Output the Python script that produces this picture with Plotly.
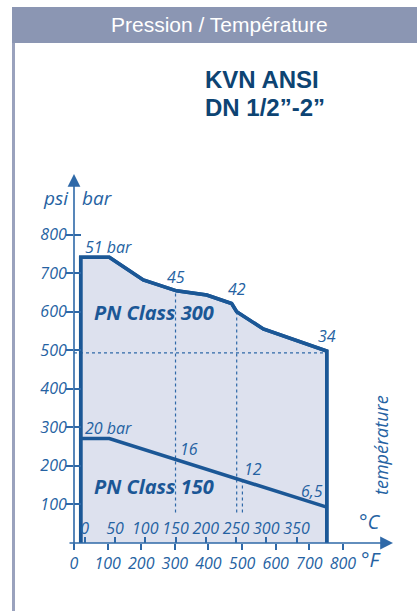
import plotly.graph_objects as go

# ---------------- data ----------------
# PN Class 300 envelope (temperature in °F, pressure in psi)
class300_temp_F = [20, 20, 105, 206, 305, 395, 469, 484, 563, 752, 752]
class300_psi = [0, 741, 741, 682, 654, 643, 621, 600, 555, 498, 0]

# PN Class 150 line
class150_temp_F = [20, 105, 752]
class150_psi = [271, 271, 93]

# bar value labels (text, anchor °F, anchor psi)
class300_labels = ["51 bar", "45", "42", "34"]
class300_label_F = [104, 303, 485, 754]
class300_label_psi = [768, 690, 658, 536]
class150_labels = ["20 bar", "16", "12", "6,5"]
class150_label_F = [104, 342, 533, 708]
class150_label_psi = [298, 245, 193, 136]

# reference (dotted) lines
ref_v_temp_F = [302, 484, 501]
ref_v_psi_top = [654, 600, 162]
ref_v_psi_bottom = 79
ref_h_psi = 493
ref_h_temp_F_end = 752

# axes ticks
psi_ticks = [100, 200, 300, 400, 500, 600, 700, 800]
F_ticks = [0, 100, 200, 300, 400, 500, 600, 700, 800]
C_ticks = [0, 50, 100, 150, 200, 250, 300, 350]

X_MAX_F = 949
Y_MAX_PSI = 957

# ---------------- style ----------------
W, H = 417, 611
L, R, T, B = 74, 393, 174, 543
LINE = "#1b5796"
TXT = "#2562a2"
AX = "#2f69a8"
FILL = "#dde1ee"
FONT = "Open Sans"


def pxx(x):
    return (x - L) / (R - L)


def pxy(y):
    return (B - y) / (B - T)


fig = go.Figure()

# fill of class 300
fig.add_trace(go.Scatter(x=class300_temp_F, y=class300_psi, mode="lines",
                         fill="toself", fillcolor=FILL,
                         line=dict(color=LINE, width=3.5),
                         showlegend=False, hoverinfo="skip"))

# dotted reference lines
fig.add_trace(go.Scatter(x=[0, ref_h_temp_F_end], y=[ref_h_psi, ref_h_psi], mode="lines",
                         line=dict(color=AX, width=1.2, dash="dot"),
                         showlegend=False, hoverinfo="skip"))
for tf, top in zip(ref_v_temp_F, ref_v_psi_top):
    fig.add_trace(go.Scatter(x=[tf, tf], y=[ref_v_psi_bottom, top], mode="lines",
                             line=dict(color=AX, width=1.2, dash="dot"),
                             showlegend=False, hoverinfo="skip"))

fig.add_trace(go.Scatter(x=class150_temp_F, y=class150_psi, mode="lines",
                         line=dict(color=LINE, width=3.5),
                         showlegend=False, hoverinfo="skip"))

# redraw class 300 outline on top
fig.add_trace(go.Scatter(x=class300_temp_F, y=class300_psi, mode="lines",
                         line=dict(color=LINE, width=3.5),
                         showlegend=False, hoverinfo="skip"))

ann = []
for t, xf, yp in zip(class300_labels + class150_labels,
                     class300_label_F + class150_label_F,
                     class300_label_psi + class150_label_psi):
    ann.append(dict(x=xf, y=yp, xref="x", yref="y", text=t, showarrow=False,
                    xanchor="center", yanchor="middle",
                    font=dict(family=FONT, size=16, color=TXT, style="italic")))

ann.append(dict(x=238, y=599, xref="x", yref="y", text="<b>PN Class 300</b>", showarrow=False,
                xanchor="center", yanchor="middle",
                font=dict(family=FONT, size=20, color=LINE, style="italic")))
ann.append(dict(x=238, y=147, xref="x", yref="y", text="<b>PN Class 150</b>", showarrow=False,
                xanchor="center", yanchor="middle",
                font=dict(family=FONT, size=20, color=LINE, style="italic")))

# axis arrows
ann.append(dict(x=X_MAX_F, y=0, xref="x", yref="y", ax=-(R - 68), ay=0, text="",
                showarrow=True, arrowhead=2, arrowsize=1.6, arrowwidth=1.6, arrowcolor=AX))
ann.append(dict(x=0, y=Y_MAX_PSI, xref="x", yref="y", ax=0, ay=(548 - T), text="",
                showarrow=True, arrowhead=2, arrowsize=1.6, arrowwidth=1.6, arrowcolor=AX))


def pann(x, y, text, size, color=TXT, italic=True, xanchor="center", family=FONT, angle=0):
    d = dict(x=pxx(x), y=pxy(y), xref="paper", yref="paper", text=text, showarrow=False,
             xanchor=xanchor, yanchor="middle", textangle=angle,
             font=dict(family=family, size=size, color=color))
    if italic:
        d["font"]["style"] = "italic"
    return d


ann += [
    pann(56, 198, "psi", 19),
    pann(97, 198, "bar", 19),
    pann(370, 521, "°C", 20),
    pann(371, 559, "°F", 20),
    pann(381, 445, "température", 18, angle=-90),
    pann(219, 25, "Pression / Température", 21, color="white", italic=False, family="Liberation Sans"),
    pann(203, 80, "<b>KVN ANSI</b>", 24, color="#0d4473", italic=False, xanchor="left",
         family="Liberation Sans"),
    pann(203, 107, "<b>DN 1/2”-2”</b>", 24, color="#0d4473", italic=False, xanchor="left",
         family="Liberation Sans"),
]

shapes = [
    dict(type="rect", xref="paper", yref="paper", x0=pxx(12), x1=pxx(420), y0=pxy(43), y1=pxy(7),
         fillcolor="#8b96b3", line=dict(width=0), layer="below"),
    dict(type="rect", xref="paper", yref="paper", x0=pxx(12), x1=pxx(15), y0=pxy(615), y1=pxy(43),
         fillcolor="#9aa2bd", line=dict(width=0), layer="below"),
]

tickfont = dict(family=FONT, size=16, color=TXT, style="italic")

fig.update_layout(
    width=W, height=H,
    margin=dict(l=L, r=W - R, t=T, b=H - B, pad=0),
    paper_bgcolor="white", plot_bgcolor="rgba(0,0,0,0)",
    showlegend=False,
    annotations=ann, shapes=shapes,
    xaxis=dict(range=[0, X_MAX_F], tickvals=F_ticks, ticks="outside", ticklen=6,
               tickwidth=1.5, tickcolor=AX, showline=False, showgrid=False, zeroline=False,
               tickfont=tickfont, fixedrange=True),
    xaxis2=dict(range=[(0 - 32) / 1.8, (X_MAX_F - 32) / 1.8], tickvals=C_ticks,
                overlaying="x", anchor="y", side="bottom", ticks="inside", ticklen=6,
                tickwidth=1.5, tickcolor=AX, ticklabelposition="inside",
                showline=False, showgrid=False, zeroline=False, tickfont=tickfont),
    yaxis=dict(range=[0, Y_MAX_PSI], tickvals=psi_ticks, ticks="outside", ticklen=7,
               tickwidth=1.5, tickcolor=AX, showline=False, showgrid=False, zeroline=False,
               tickfont=tickfont, ticklabelstandoff=-4),
    yaxis2=dict(range=[0, Y_MAX_PSI], tickvals=psi_ticks, overlaying="y", anchor="x",
                side="left", ticks="inside", ticklen=7, tickwidth=1.5, tickcolor=AX,
                showticklabels=False, showline=False, showgrid=False, zeroline=False),
)

# empty traces to activate secondary axes
fig.add_trace(go.Scatter(x=[None], y=[None], xaxis="x2", yaxis="y", showlegend=False, hoverinfo="skip"))
fig.add_trace(go.Scatter(x=[None], y=[None], xaxis="x", yaxis="y2", showlegend=False, hoverinfo="skip"))

fig.write_html("out.html", config={"displayModeBar": False},
               post_script="document.body.style.margin='0';document.body.style.overflow='hidden';")
